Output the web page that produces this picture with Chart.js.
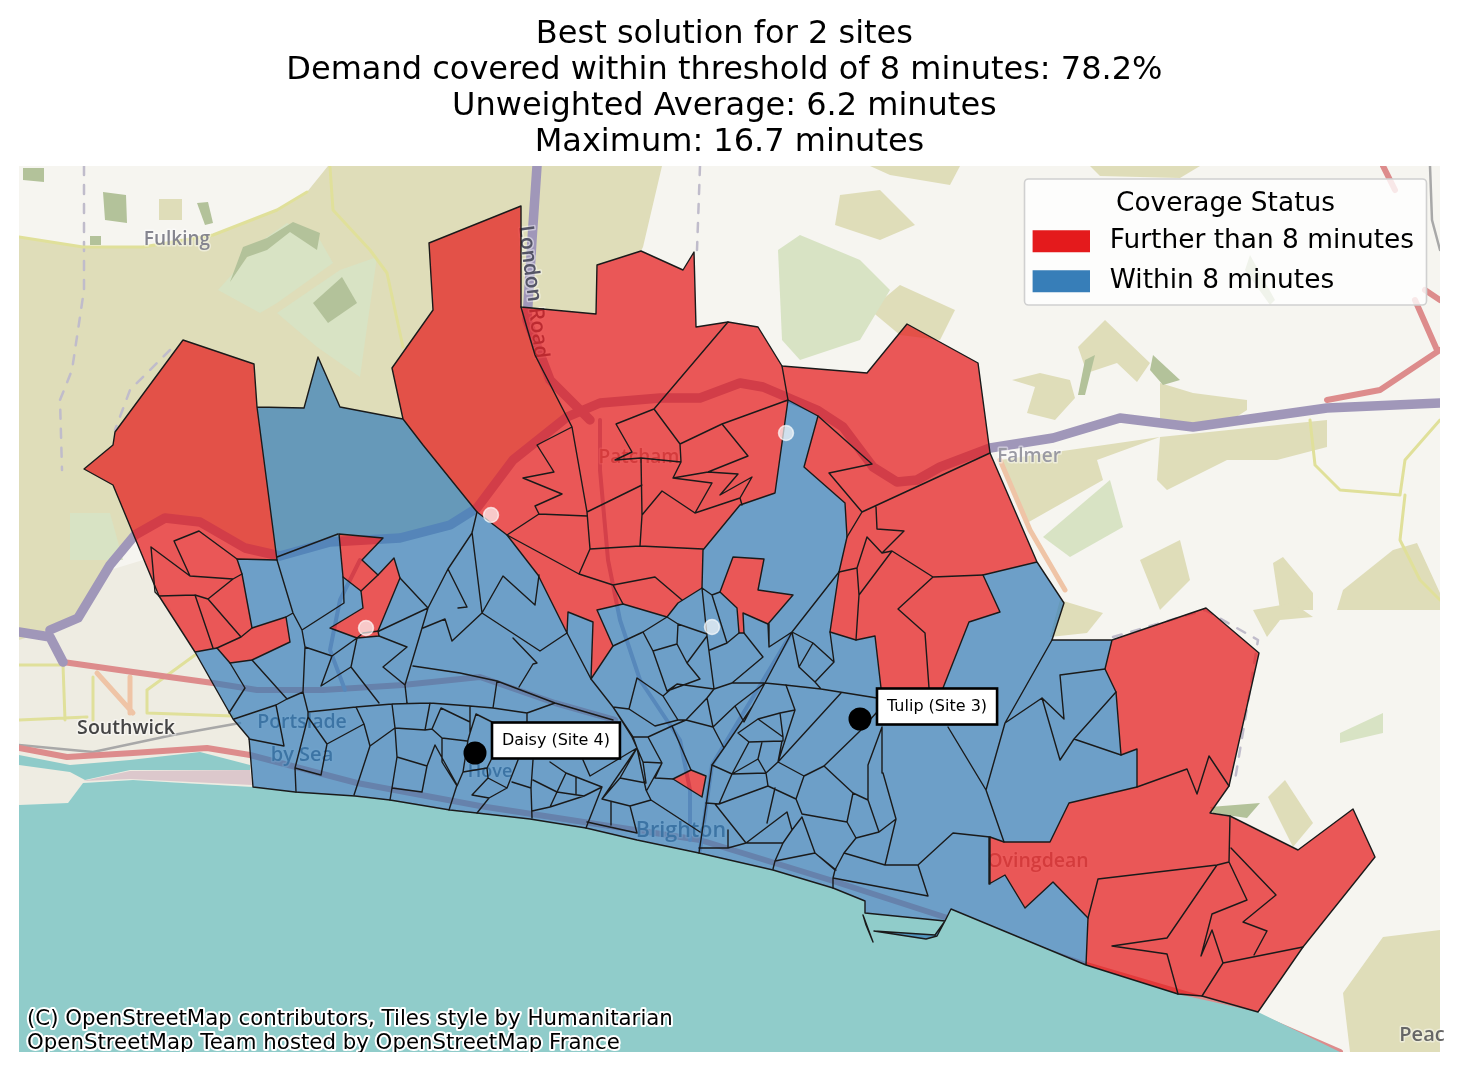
<!DOCTYPE html>
<html><head><meta charset="utf-8">
<style>html,body{margin:0;padding:0;background:#fff}canvas{display:block}</style>
<script src="https://cdn.jsdelivr.net/npm/chart.js@4/dist/chart.umd.min.js"></script>
</head><body><canvas id="c" width="1458" height="1072"></canvas>
<script>
/* ---------- map geometry, in map grid units ---------- */
const titleLines=['Best solution for 2 sites ','Demand covered within threshold of 8 minutes: 78.2% ','Unweighted Average: 6.2 minutes ','Maximum: 16.7 minutes'];
const legendTitle='Coverage Status';
const statusNames=['Further than 8 minutes','Within 8 minutes'];
const siteNames=['Daisy (Site 4)','Tulip (Site 3)'];
const siteX=[475,860];
const siteY=[753,719];
const candidateX=[491,366,712,786];
const candidateY=[515,628,627,433];
const attribution=['(C) OpenStreetMap contributors, Tiles style by Humanitarian','OpenStreetMap Team hosted by OpenStreetMap France'];

const frame=[[19,166],[1440,166],[1440,1052],[19,1052]];
const sea=[[19,805],[68,803],[83,783],[133,780],[183,783],[253,787],[295,792],[355,796],[390,800],[450,810],[477,813],[530,819],[586,828],[637,840],[699,853],[773,870],[833,888],[865,901],[865,913],[945,921],[951,909],[1086,965],[1178,994],[1258,1012],[1340,1052],[19,1052]];
const cityWest=[[19,640],[55,625],[110,570],[143,560],[195,652],[233,719],[249,738],[253,787],[183,783],[133,780],[83,783],[68,803],[19,805]];
const tanPatches=[
[[19,237],[83,247],[143,247],[213,235],[277,210],[307,192],[328,166],[662,166],[643,247],[641,251],[597,265],[596,314],[521,307],[535,355],[567,417],[513,460],[477,508],[450,525],[400,538],[330,542],[280,556],[245,548],[200,522],[165,518],[135,535],[110,565],[78,618],[50,630],[19,640]],
[[1012,380],[1040,373],[1070,380],[1075,398],[1055,420],[1027,413],[1035,387]],
[[1078,347],[1105,320],[1150,363],[1137,382],[1117,363],[1087,373]],
[[1160,383],[1193,393],[1247,400],[1247,410],[1227,423],[1160,423]],
[[1160,437],[1327,420],[1327,447],[1277,460],[1227,460],[1167,490],[1157,480]],
[[1000,460],[1160,437],[1097,460],[1103,480],[1027,523]],
[[1343,590],[1393,550],[1417,543],[1440,593],[1440,610],[1337,610]],
[[1273,563],[1283,557],[1313,593],[1313,610],[1280,610]],
[[1268,797],[1285,780],[1313,823],[1293,847]],
[[1060,600],[1103,613],[1087,633],[1050,637]],
[[1253,610],[1293,603],[1313,617],[1280,620],[1267,637]],
[[1343,993],[1383,937],[1440,930],[1440,1052],[1350,1052]],
[[1140,560],[1180,540],[1190,580],[1160,610]],
[[840,195],[880,190],[915,225],[880,240],[835,225]],
[[870,310],[900,285],[955,310],[940,340],[900,335]],
[[870,166],[960,166],[950,185],[890,175]],
[[800,295],[830,290],[835,320],[810,335]],
[[159,199],[182,199],[182,220],[159,220]],
[[1090,166],[1200,166],[1180,178],[1100,176]]
];
const lightGreenPatches=[
[[778,250],[800,235],[860,260],[890,290],[860,340],[800,360],[782,340]],
[[218,290],[263,240],[287,223],[320,240],[333,263],[277,303],[260,313]],
[[277,313],[340,270],[377,257],[367,327],[360,377],[317,347]],
[[1043,537],[1110,480],[1123,527],[1070,557]],
[[1340,733],[1383,713],[1383,733],[1340,743]],
[[70,513],[110,513],[123,560],[70,560]]
];
const darkGreenPatches=[
[[103,192],[126,195],[127,223],[105,220]],
[[197,203],[208,202],[213,223],[205,225]],
[[90,236],[101,236],[101,245],[90,245]],
[[23,168],[44,168],[44,182],[23,180]],
[[313,303],[342,277],[357,303],[328,323]],
[[230,282],[243,247],[267,238],[293,222],[320,233],[317,250],[290,232],[267,250],[247,257]],
[[1210,807],[1260,803],[1247,818],[1213,813]],
[[1153,355],[1180,380],[1163,385],[1150,370]],
[[1085,360],[1095,355],[1085,395],[1078,395]],
[[1250,255],[1275,300],[1270,305],[1245,270]]
];
const tealStrip=[[19,755],[70,765],[130,760],[200,752],[250,765],[250,770],[130,770],[85,780],[70,772],[19,765]];
const pinkStrip=[[83,781],[130,771],[250,770],[252,785],[130,779]];
const townPatch=[[19,772],[65,772],[68,803],[19,805]];

const purpleRoads=[
[[19,632],[50,637],[63,662]],
[[50,630],[78,618],[110,565],[135,535],[165,518],[200,522],[245,548],[280,556],[330,542],[400,538],[450,525],[477,508],[513,460],[567,417],[600,403],[660,398],[700,398],[740,383],[763,387],[817,410],[843,427],[873,467],[897,482],[917,480],[940,467],[990,448],[1053,438],[1120,418],[1193,427],[1327,408],[1440,403]],
[[537,166],[532,240],[527,320],[550,380],[590,420]]
];
const cityRoads=[
[[600,420],[600,470],[608,560],[620,620],[640,680],[680,740],[690,790],[690,840]],
[[791,634],[712,765],[700,850]],
[[360,560],[340,600],[330,650],[345,690]]
];
const redRoads=[
[[63,662],[133,672],[213,683],[257,690],[323,690],[403,685],[480,677],[555,703],[615,720]],
[[19,748],[67,757],[133,753],[207,748],[250,755],[357,783],[480,806],[700,840],[830,880],[1000,935],[1086,965],[1250,1013],[1340,1052]],
[[1327,400],[1380,390],[1440,350]],
[[1383,166],[1395,190]],
[[1415,300],[1437,350]],
[[1425,290],[1440,300]]
];
const orangeRoads=[
[[1000,460],[1030,530],[1065,590]],
[[97,673],[133,713]],[[130,677],[130,713]]
];
const yellowRoads=[
[[19,237],[83,247],[143,247],[213,235],[277,210],[307,192]],
[[330,167],[333,210],[370,250],[387,273],[403,347]],
[[1310,420],[1315,465],[1340,490],[1400,495],[1405,460],[1440,420]],
[[1405,495],[1400,540],[1420,580],[1440,600]],
[[19,665],[63,665],[65,720]],[[93,677],[93,720]],[[19,720],[87,717]],[[147,690],[147,713],[233,716]],[[147,690],[195,655]]
];
const railLines=[[[19,745],[93,752],[173,735],[240,723]],[[1430,166],[1432,220],[1440,250]]];
const dashedPaths=[
[[84,166],[84,290],[72,370],[60,400],[62,470]],
[[170,350],[130,390],[115,430]],
[[700,166],[697,250]],
[[1113,637],[1205,610],[1258,640],[1245,720],[1235,780]]
];

const redNorth=[[429,243],[521,206],[521,307],[596,314],[597,265],[641,251],[683,270],[694,252],[696,327],[728,322],[758,327],[782,366],[867,373],[907,324],[978,363],[990,453],[1037,562],[983,575],[1000,612],[969,622],[943,688],[943,705],[882,705],[881,688],[875,636],[856,640],[830,632],[839,572],[847,537],[845,503],[804,467],[818,416],[788,400],[775,493],[740,505],[703,550],[702,588],[678,603],[667,617],[623,604],[597,610],[613,646],[591,679],[593,622],[568,612],[567,633],[538,575],[507,535],[477,512],[423,445],[403,419],[392,368],[433,310]];
const redWest=[[183,340],[254,364],[257,407],[277,560],[237,559],[242,574],[252,628],[286,617],[290,642],[252,660],[230,663],[217,648],[195,652],[159,596],[113,485],[84,469],[113,445],[115,432]];
const redSouthEast=[[1112,640],[1206,608],[1259,653],[1229,786],[1210,813],[1230,816],[1298,850],[1353,809],[1375,857],[1303,947],[1258,1012],[1202,996],[1178,994],[1086,965],[1088,918],[1053,882],[1025,908],[1005,875],[989,884],[990,837],[1004,842],[1050,842],[1069,803],[1137,787],[1137,749],[1121,755],[1116,692],[1105,669]];
const redIslandA=[[339,534],[383,538],[362,560],[378,575],[394,558],[400,578],[378,631],[379,636],[357,638],[330,628],[363,608],[361,591],[343,577]];
const redIslandB=[[673,779],[691,770],[706,776],[702,797]];
const redIslandC=[[720,592],[733,557],[764,559],[758,590],[793,595],[768,624],[743,613],[744,633],[739,633],[737,608]];
const blueOuter=[[257,407],[304,408],[318,357],[340,407],[403,419],[423,445],[477,512],[507,535],[538,575],[567,633],[568,612],[593,622],[591,679],[613,646],[597,610],[623,604],[667,617],[678,603],[702,588],[703,550],[740,505],[775,493],[788,400],[818,416],[804,467],[845,503],[847,537],[839,572],[830,632],[856,640],[875,636],[881,688],[882,705],[943,705],[943,688],[969,622],[1000,612],[983,575],[1037,562],[1064,603],[1052,640],[1112,640],[1105,669],[1116,692],[1121,755],[1137,749],[1137,787],[1069,803],[1050,842],[1004,842],[990,837],[989,884],[1005,875],[1025,908],[1053,882],[1088,918],[1086,965],[951,909],[945,921],[865,913],[865,901],[833,888],[773,870],[699,853],[637,840],[586,828],[530,819],[477,813],[450,810],[390,800],[355,796],[295,792],[253,787],[249,738],[233,719],[195,652],[217,648],[230,663],[252,660],[290,642],[286,617],[252,628],[242,574],[237,559],[277,560]];
const harbourArmA=[[863,915],[873,942],[866,925]];
const harbourArmB=[[874,931],[926,939],[937,936],[945,921],[935,935]];

const redWardEdges=[
[[174,541],[199,531],[237,559]],[[174,541],[190,576],[233,579],[242,574]],
[[151,547],[190,576]],[[151,547],[155,592],[159,596],[195,595],[208,599],[233,579]],
[[195,595],[213,648]],[[208,599],[241,637],[252,628]],[[241,637],[217,648]],
[[521,307],[527,328],[535,355],[572,427],[587,512],[590,549],[579,574]],
[[572,427],[537,445],[554,472],[523,478],[562,494],[535,506],[539,514],[587,516]],
[[539,514],[507,535],[579,574],[613,585],[655,577],[682,600]],[[613,585],[623,604]],
[[590,549],[640,546],[703,549]],[[640,546],[642,515],[641,458]],
[[587,512],[642,485]],
[[615,460],[632,452],[616,424],[654,409],[728,322]],
[[615,460],[641,458],[681,462],[680,444],[654,409]],
[[680,444],[722,424],[788,400]],[[722,424],[748,456],[708,472],[673,478],[681,462]],
[[673,478],[712,483],[695,513],[662,491],[642,515]],
[[708,472],[738,474],[720,495],[752,477],[740,498],[742,505]],[[740,498],[695,513]],
[[782,366],[788,400]],
[[818,416],[872,464],[829,473],[862,512],[990,453]],
[[862,512],[847,537]],[[839,572],[857,568],[867,537],[882,553],[904,531],[877,529],[876,507]],
[[857,568],[859,595],[856,640]],[[859,595],[892,551],[882,553]],
[[892,551],[933,577],[898,609],[925,633],[929,688]],[[933,577],[983,575]],
[[1137,787],[1187,769],[1197,794],[1209,756],[1229,786]],
[[1230,816],[1229,862],[1217,865],[1098,879],[1088,918]],
[[1231,848],[1276,895],[1243,922],[1267,931],[1254,955]],
[[1229,862],[1247,900],[1212,914],[1201,956],[1212,930],[1223,963],[1202,996]],
[[1303,947],[1223,963]],
[[1217,865],[1167,938],[1112,946],[1167,954],[1178,994]],
[[357,638],[363,633],[379,631]],[[361,591],[378,575]]
];
const blueWardEdgesWest=[
[[277,557],[338,534]],
[[277,560],[293,613],[302,630],[305,647],[303,692],[308,712]],[[286,617],[293,613]],
[[302,630],[344,603],[343,577]],[[305,647],[332,656],[357,638]],
[[332,656],[321,686],[351,667],[357,638]],[[351,667],[379,703]],
[[379,631],[428,608],[400,578]],[[379,636],[407,647],[383,667],[405,685],[428,608]],[[405,685],[407,703]],
[[428,608],[448,569],[467,607],[458,608]],[[448,569],[472,533],[477,512]],[[472,532],[482,613]],
[[423,628],[445,619],[452,641],[482,613]],
[[482,613],[503,576],[535,605],[539,575]],[[482,613],[540,651],[567,633]],
[[513,638],[537,663],[533,664],[519,687]],
[[413,666],[460,673],[497,681],[555,703],[613,720]],
[[497,681],[493,708],[527,713],[555,703]],[[527,713],[527,723]],
[[252,660],[287,699],[276,705],[234,719]],[[303,692],[287,699]],[[276,705],[284,746],[249,739]],[[230,663],[245,688],[229,713]],
[[308,712],[356,707],[392,704],[430,703],[470,706],[493,708]],
[[356,707],[364,724],[327,744],[308,717]],[[308,712],[308,717]],
[[364,724],[370,746],[395,728],[425,730],[430,703]],[[392,704],[395,728]],
[[425,730],[432,729],[441,708],[470,722]],[[432,729],[442,738],[467,741]],[[442,738],[442,762],[457,786]],
[[308,717],[295,768],[321,775],[327,744]],[[295,768],[296,792]],[[370,746],[354,795]],
[[395,728],[397,757],[392,788],[422,792],[427,766],[435,745],[457,785],[449,810]],[[397,757],[427,766]],[[392,788],[390,800]],
[[470,706],[470,733],[468,740],[463,772],[487,768],[491,760]],[[476,714],[470,733]],[[476,714],[492,722]],
[[457,786],[463,772]],[[487,768],[488,778],[472,795],[489,798],[507,788],[488,778]],[[489,798],[477,813]],
[[507,788],[518,760]],[[512,782],[531,788],[533,760]],[[531,788],[532,818]],
[[533,780],[557,792],[566,773],[550,762]],[[566,773],[602,787]],[[576,777],[576,795]],
[[557,792],[584,796],[602,787]],[[557,792],[550,807],[532,811]],[[584,796],[550,807]],[[602,787],[586,828]]
];
const blueWardEdgesCentre=[
[[567,633],[591,679],[613,707],[632,737],[637,748],[646,790],[651,800],[700,832]],
[[613,646],[643,632],[667,617]],[[643,632],[653,651],[667,691]],
[[667,617],[678,624],[707,634]],[[678,624],[677,644],[653,651]],[[677,644],[687,663],[707,636]],[[687,663],[700,679],[667,691]],
[[702,588],[707,636],[714,689]],[[702,588],[712,595],[720,592]],[[712,595],[727,643],[710,650]],
[[727,643],[739,633]],[[744,633],[763,657],[732,683],[714,689],[677,684],[667,691]],
[[768,624],[769,647],[792,632]],[[839,572],[792,632],[765,683],[752,707],[724,748],[712,765],[699,853]],
[[792,632],[799,667],[815,682],[821,689]],[[792,632],[813,643],[834,662],[815,682]],[[799,667],[813,643]],[[830,632],[834,662]],
[[732,683],[765,683],[785,685],[821,689],[877,698]],
[[707,698],[714,689]],[[707,698],[713,727],[735,706],[765,683]],[[735,706],[744,722],[752,707]],[[713,727],[724,748]],
[[707,698],[686,720],[713,727]],[[686,720],[678,720],[663,696],[637,678],[629,709],[655,726],[678,720]],[[663,696],[677,684]],
[[686,720],[672,726],[691,770]],[[672,726],[648,737],[662,763],[655,778],[673,779]],
[[648,737],[633,737],[613,707],[629,709]],[[633,737],[637,748],[643,762],[662,763]],[[643,762],[646,783]],[[662,763],[647,790]],
[[637,748],[602,799],[630,806],[651,800]],[[611,802],[611,825]],[[630,806],[637,833]],[[587,822],[637,833]],
[[637,748],[620,778],[646,783]],[[620,778],[602,799]],[[583,760],[590,776],[637,748]]
];
const blueWardEdgesEast=[
[[712,765],[732,774],[719,804],[706,803]],[[732,774],[749,742],[738,733],[758,719],[780,713],[795,710],[786,685]],
[[758,719],[783,737],[780,713]],[[749,742],[782,741],[783,737]],[[782,741],[778,762],[766,773],[732,774]],
[[762,742],[758,759],[766,773]],[[758,759],[732,774]],[[766,773],[768,786],[719,804]],
[[768,786],[796,799],[804,776],[778,762]],[[804,776],[824,766],[860,731],[877,712]],[[778,762],[841,693]],[[795,710],[778,762]],
[[824,766],[853,793],[868,800],[868,765],[882,727]],[[883,773],[882,727]],
[[853,793],[847,822],[856,838],[879,832],[868,800]],[[847,822],[802,814],[796,799]],
[[856,838],[844,853],[835,870],[815,853],[802,817]],[[775,861],[815,853]],
[[802,817],[792,830],[783,843],[775,861],[773,869]],[[792,830],[787,812],[746,843],[715,804]],
[[746,843],[728,848],[699,848]],[[728,830],[728,848]],[[783,843],[746,843]],[[775,788],[767,823]],
[[844,853],[885,865]],[[896,819],[885,865]],[[883,773],[896,819]],[[879,832],[896,819]],
[[885,865],[918,865],[953,833],[990,837]],[[918,865],[928,896],[833,878]],[[835,870],[833,878],[833,888]],
[[820,857],[836,870]],
[[948,727],[986,790],[1004,842]],[[986,790],[1005,723],[1052,640]],
[[1005,723],[1042,698],[1060,760],[1074,739],[1121,755]],[[1042,698],[1064,719],[1060,675],[1105,669]],[[1074,739],[1116,692]]
];
const placeNames=['Fulking','Falmer','Southwick','Portslade','by Sea','Hove','Brighton','Ovingdean','Patcham','Peac','London Road'];
const placeX=[177,1029,126,302,302,490,681,1038,639,1422,533];
const placeY=[240,457,728,722,755,772,831,861,458,1035,292];
const placeSize=[19,19,19.6,19.5,20,18,21.5,19.5,19,20,21];
const placeTurn=[0,0,0,0,0,0,0,0,0,0,83];
const placeInk=['#85858f','#9a9aa4','#444','#4a5a70','#4a5a70','#4a5a70','#4a5a70','#a89090','#a89090','#666','#555566'];

/* ---------- builders ---------- */
const FONT='"DejaVu Sans"';
Chart.defaults.font.family=FONT;
const COL={red:'#e41a1c',blue:'#377eb8',redA:'rgba(228,26,28,0.72)',blueA:'rgba(55,126,184,0.72)'};
const pts=a=>a.map(([x,y])=>({x,y}));
const closed=a=>[...a,a[0]];
const area=a=>a.reduce((s,p,i)=>{const q=a[(i+1)%a.length];return s+p[0]*q[1]-q[0]*p[1];},0);
function withHoles(outer,holes){
  const sign=Math.sign(area(outer));const out=closed(outer);const anchor=out[out.length-1];
  let path=[...out];
  holes.forEach(h=>{const r=Math.sign(area(h))===sign?[...h].reverse():[...h];path=path.concat(closed(r),[anchor]);});
  return path;
}
const fillSet=(a,color,label)=>({label:label||'',data:pts(a),showLine:true,fill:'shape',backgroundColor:color,borderColor:color,borderWidth:0,pointRadius:0,tension:0,spanGaps:false});
function lineSet(paths,color,width,dash,label){
  const d=[];paths.forEach(p=>{p.forEach(([x,y])=>d.push({x,y}));d.push({x:NaN,y:NaN});});
  return {label:label||'',data:d,showLine:true,fill:false,borderColor:color,borderWidth:width,borderDash:dash||[],pointRadius:0,tension:0,spanGaps:false,borderCapStyle:'round',borderJoinStyle:'round'};
}
const base=[
 fillSet(frame,'#f6f5f0'),
 fillSet(cityWest,'#eeece2'),
 ...tanPatches.map(p=>fillSet(p,'#dfddb9')),
 ...lightGreenPatches.map(p=>fillSet(p,'#d8e3c4')),
 ...darkGreenPatches.map(p=>fillSet(p,'#b3c29a')),
 fillSet(townPatch,'#eeece2'),
 fillSet(tealStrip,'#8fcbc9'),
 fillSet(pinkStrip,'#dcc8cc'),
 lineSet(dashedPaths,'#c0bccb',2.5,[9,10]),
 lineSet(yellowRoads,'#e0e09a',3),
 lineSet(orangeRoads,'#efc4a6',5),
 lineSet(railLines,'#a8a8a8',2.5),
 lineSet(redRoads,'#dd8c8c',6),
 lineSet(cityRoads,'#a8a0c0',4),
 lineSet(purpleRoads,'#a097b9',9.5),
 fillSet(sea,'#90ccca')
];
const overlay=[
 fillSet(withHoles(blueOuter,[redIslandA,redIslandB,redIslandC]),COL.blueA,statusNames[1]),
 fillSet(harbourArmA,COL.blueA),fillSet(harbourArmB,COL.blueA),
 fillSet(redNorth,COL.redA,statusNames[0]),fillSet(redWest,COL.redA),fillSet(redSouthEast,COL.redA),
 fillSet(redIslandA,COL.redA),fillSet(redIslandB,COL.redA),fillSet(redIslandC,COL.redA),
 lineSet([closed(blueOuter),closed(redNorth),closed(redWest),closed(redSouthEast),closed(redIslandA),closed(redIslandB),closed(redIslandC),closed(harbourArmA),closed(harbourArmB)],'#1a1a1a',1.4),
 lineSet(redWardEdges,'#1a1a1a',1.4),
 lineSet(blueWardEdgesWest,'#1a1a1a',1.4),
 lineSet(blueWardEdgesCentre,'#1a1a1a',1.4),
 lineSet(blueWardEdgesEast,'#1a1a1a',1.4)
];
const markers=[
 {label:'Candidates',data:candidateX.map((x,i)=>({x,y:candidateY[i]})),showLine:false,pointRadius:7.5,backgroundColor:'rgba(255,255,255,0.68)',borderColor:'rgba(255,255,255,0.65)',borderWidth:1.5},
 {label:'Sites',data:siteX.map((x,i)=>({x,y:siteY[i]})),showLine:false,pointRadius:11.5,backgroundColor:'#000',borderColor:'#000',borderWidth:0}
];
const datasets=[...base,...overlay,...markers];
datasets.forEach((d,i)=>{d.order=datasets.length-i;});
const lastBase=base.length-1;

const mapPlugin={
 id:'mapTexts',
 afterLayout(chart){
  const l=chart.legend;l.left=1019;l.right=1432;l.top=178;l.bottom=1040;l.width=413;l.height=862;
 },
 afterDatasetDraw(chart,args){
  if(args.index!==lastBase)return;
  const {ctx,scales:{x,y}}=chart;
  ctx.save();ctx.textAlign='center';ctx.textBaseline='middle';
  placeNames.forEach((n,i)=>{
   ctx.save();ctx.translate(x.getPixelForValue(placeX[i]),y.getPixelForValue(placeY[i]));
   ctx.rotate(placeTurn[i]*Math.PI/180);
   ctx.font='600 '+placeSize[i]+'px "Open Sans"';
   ctx.lineWidth=3;ctx.strokeStyle='rgba(255,255,255,0.45)';ctx.lineJoin='round';ctx.strokeText(n,0,0);
   ctx.fillStyle=placeInk[i];ctx.fillText(n,0,0);ctx.restore();
  });
  ctx.restore();
 },
 afterDatasetsDraw(chart){
  const {ctx,scales:{x,y}}=chart;
  ctx.save();
  ctx.save();ctx.beginPath();ctx.rect(19,166,1421,886);ctx.clip();
  ctx.font='21.3px '+FONT;ctx.textBaseline='alphabetic';ctx.textAlign='left';ctx.lineJoin='round';
  attribution.forEach((s,i)=>{const py=1025+i*24;ctx.lineWidth=4;ctx.strokeStyle='#fff';ctx.strokeText(s,27,py);ctx.fillStyle='#000';ctx.fillText(s,27,py);});
  ctx.restore();
  /* site labels */
  ctx.font='16px '+FONT;ctx.textBaseline='middle';ctx.textAlign='left';
  siteNames.forEach((s,i)=>{
   const px=x.getPixelForValue(siteX[i]),py=y.getPixelForValue(siteY[i]);
   const w=ctx.measureText(s).width+20,h=36,l=px+17,t=py-30.5;
   ctx.fillStyle='#fff';ctx.strokeStyle='#000';ctx.lineWidth=2.6;
   ctx.fillRect(l,t,w,h);ctx.strokeRect(l,t,w,h);
   ctx.fillStyle='#000';ctx.fillText(s,l+10,t+h/2);
  });
  /* legend frame, then the library's legend on top */
  ctx.beginPath();ctx.roundRect(1024.5,179,402,126,4);
  ctx.fillStyle='rgba(255,255,255,0.8)';ctx.fill();ctx.lineWidth=1.6;ctx.strokeStyle='#d0d0d0';ctx.stroke();
  ctx.restore();
  chart.legend.draw(chart.chartArea);
 }
};
new Chart(document.getElementById('c'),{
 type:'scatter',
 data:{datasets},
 plugins:[mapPlugin],
 options:{
  responsive:false,animation:false,events:[],
  layout:{padding:{left:19,right:18,bottom:20,top:0}},
  scales:{
   x:{type:'linear',min:19,max:1440,display:false},
   y:{type:'linear',min:166,max:1052,reverse:true,display:false}
  },
  plugins:{
   tooltip:{enabled:false},
   title:{display:true,text:titleLines,color:'#000',align:'center',font:{size:32,family:FONT,weight:'normal',lineHeight:1.125},padding:{top:17,bottom:5}},
   legend:{display:true,position:'chartArea',align:'start',
    title:{display:true,text:legendTitle,color:'#000',font:{size:26.4,family:FONT,lineHeight:1},padding:{top:13,bottom:-3}},
    labels:{font:{size:26.4,family:FONT},color:'#000',padding:13.6,boxWidth:64,boxHeight:22,
     generateLabels(chart){
      const ctx=chart.ctx;
      return statusNames.map((t,i)=>{
       const c=i?COL.blue:COL.red;const g=ctx.createLinearGradient(1033,0,1097,0);
       g.addColorStop(0,c);g.addColorStop(57/64,c);g.addColorStop(57/64,'rgba(0,0,0,0)');g.addColorStop(1,'rgba(0,0,0,0)');
       return {text:t,fillStyle:g,strokeStyle:'rgba(0,0,0,0)',lineWidth:0,hidden:false,datasetIndex:0,fontColor:'#000'};
      });
     }}
   }
  }
 }
});
</script></body></html>
